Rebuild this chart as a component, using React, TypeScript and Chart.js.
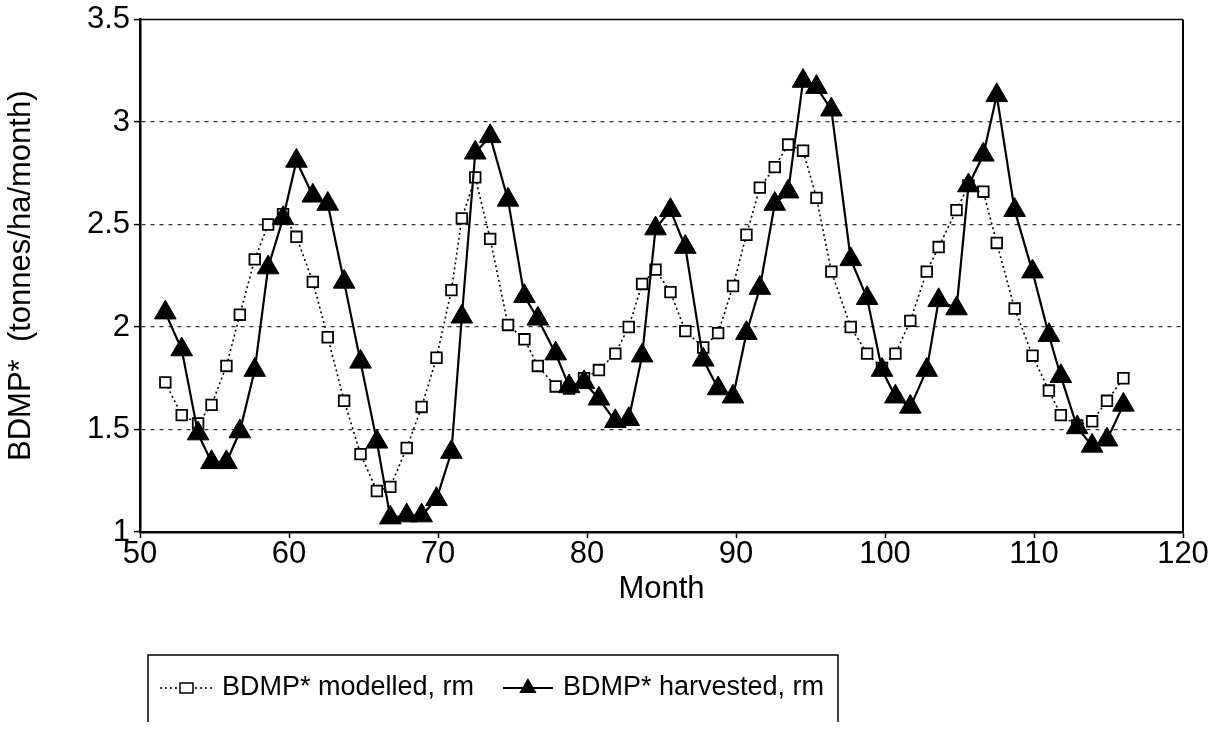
import React, { useEffect, useRef } from "react";
import { Chart, registerables } from "chart.js";

Chart.register(...registerables);

// Month positions of the running-mean points
const months = [
  51.7, 52.8, 53.9, 54.8, 55.8, 56.7, 57.7, 58.6, 59.6, 60.5,
  61.6, 62.6, 63.7, 64.8, 65.9, 66.8, 67.9, 68.9, 69.9, 70.9,
  71.6, 72.5, 73.5, 74.7, 75.8, 76.7, 77.9, 78.8, 79.8, 80.8,
  81.9, 82.8, 83.7, 84.6, 85.6, 86.6, 87.8, 88.8, 89.8, 90.7,
  91.6, 92.6, 93.5, 94.5, 95.4, 96.4, 97.7, 98.8, 99.8, 100.7,
  101.7, 102.8, 103.6, 104.8, 105.6, 106.6, 107.5, 108.7, 109.9, 111.0,
  111.8, 112.9, 113.9, 114.9, 116.0,
];

const modelled = [
  1.73, 1.57, 1.53, 1.62, 1.81, 2.06, 2.33, 2.5, 2.55, 2.44,
  2.22, 1.95, 1.64, 1.38, 1.2, 1.22, 1.41, 1.61, 1.85, 2.18,
  2.53, 2.73, 2.43, 2.01, 1.94, 1.81, 1.71, 1.7, 1.75, 1.79,
  1.87, 2.0, 2.21, 2.28, 2.17, 1.98, 1.9, 1.97, 2.2, 2.45,
  2.68, 2.78, 2.89, 2.86, 2.63, 2.27, 2.0, 1.87, 1.8, 1.87,
  2.03, 2.27, 2.39, 2.57, 2.69, 2.66, 2.41, 2.09, 1.86, 1.69,
  1.57, 1.52, 1.54, 1.64, 1.75,
];

const harvested = [
  2.07, 1.89, 1.48, 1.34, 1.34, 1.49, 1.79, 2.29, 2.53, 2.81,
  2.64, 2.6, 2.22, 1.83, 1.44, 1.07, 1.08, 1.08, 1.16, 1.39,
  2.05, 2.85, 2.93, 2.62, 2.15, 2.04, 1.87, 1.71, 1.73, 1.65,
  1.54, 1.55, 1.86, 2.48, 2.57, 2.39, 1.84, 1.7, 1.66, 1.97,
  2.19, 2.6, 2.66, 3.2, 3.17, 3.06, 2.33, 2.14, 1.79, 1.66,
  1.61, 1.79, 2.13, 2.09, 2.69, 2.84, 3.13, 2.57, 2.27, 1.96,
  1.76, 1.51, 1.42, 1.45, 1.62,
];

const xRange = [50, 120];
const xStep = 10;
const yRange = [1, 3.5];
const yStep = 0.5;
const seriesNames = ["BDMP* modelled, rm", "BDMP* harvested, rm"];
const xTitle = "Month";
const yTitle = "BDMP*  (tonnes/ha/month)";

const FONT = "'Liberation Sans', Arial, Helvetica, sans-serif";
const W = 1227;
const H = 748;

const framePlugin = {
  id: "frame",
  beforeDatasetsDraw(chart: any) {
    const { ctx, chartArea } = chart;
    ctx.save();
    ctx.strokeStyle = "#000";
    ctx.setLineDash([]);
    ctx.lineWidth = 1.5;
    ctx.beginPath();
    ctx.moveTo(chartArea.left, chartArea.top);
    ctx.lineTo(chartArea.right, chartArea.top);
    ctx.stroke();
    ctx.lineWidth = 2;
    ctx.beginPath();
    ctx.moveTo(chartArea.right, chartArea.top);
    ctx.lineTo(chartArea.right, chartArea.bottom);
    ctx.stroke();
    ctx.restore();
  },
};

const boxLegendPlugin = {
  id: "boxLegend",
  afterDraw(chart: any) {
    const { ctx } = chart;
    const box = { left: 148, top: 655, right: 838, bottom: 722 };
    const cy = 688;
    ctx.save();
    ctx.font = `27px ${FONT}`;
    const w2 = ctx.measureText(seriesNames[1]).width;
    const text1X = 222;
    const text2X = box.right - 14 - w2;
    const s2Right = text2X - 10;
    const s2Left = s2Right - 50;
    const triX = (s2Left + s2Right) / 2;

    ctx.strokeStyle = "#000";
    ctx.lineWidth = 1.5;
    ctx.setLineDash([]);
    ctx.beginPath();
    ctx.moveTo(box.left, box.bottom);
    ctx.lineTo(box.left, box.top);
    ctx.lineTo(box.right, box.top);
    ctx.lineTo(box.right, box.bottom);
    ctx.stroke();

    // modelled sample
    ctx.lineWidth = 1.5;
    ctx.setLineDash([2, 3]);
    ctx.beginPath();
    ctx.moveTo(160, cy);
    ctx.lineTo(214, cy);
    ctx.stroke();
    ctx.setLineDash([]);
    ctx.fillStyle = "#fff";
    ctx.fillRect(180, cy - 5, 13, 10);
    ctx.strokeRect(180, cy - 5, 13, 10);

    // harvested sample
    ctx.lineWidth = 2;
    ctx.beginPath();
    ctx.moveTo(s2Left, cy);
    ctx.lineTo(s2Right, cy);
    ctx.stroke();
    ctx.fillStyle = "#000";
    const r = 10;
    ctx.beginPath();
    for (let i = 0; i < 3; i++) {
      const a = (i * 2 * Math.PI) / 3;
      const px = triX + Math.sin(a) * r;
      const py = cy - Math.cos(a) * r;
      if (i === 0) ctx.moveTo(px, py);
      else ctx.lineTo(px, py);
    }
    ctx.closePath();
    ctx.fill();

    ctx.fillStyle = "#000";
    ctx.textBaseline = "middle";
    ctx.textAlign = "left";
    ctx.fillText(seriesNames[0], text1X, cy);
    ctx.fillText(seriesNames[1], text2X, cy);
    ctx.restore();
  },
};

export default function App() {
  const ref = useRef<HTMLCanvasElement | null>(null);

  useEffect(() => {
    if (!ref.current) return;
    const mod = months.map((m, i) => ({ x: m, y: modelled[i] }));
    const har = months.map((m, i) => ({ x: m, y: harvested[i] }));

    const chart = new Chart(ref.current, {
      type: "line",
      data: {
        datasets: [
          {
            label: seriesNames[1],
            data: har,
            borderColor: "#000",
            borderWidth: 2.2,
            pointStyle: "triangle",
            pointRadius: 12.5,
            pointBackgroundColor: "#000",
            pointBorderColor: "#000",
            pointBorderWidth: 1,
            tension: 0,
            order: 0,
          },
          {
            label: seriesNames[0],
            data: mod,
            borderColor: "#000",
            borderWidth: 1.6,
            borderDash: [2, 3],
            pointStyle: "rect",
            pointRadius: 7.5,
            pointBackgroundColor: "#fff",
            pointBorderColor: "#000",
            pointBorderWidth: 1.8,
            tension: 0,
            order: 1,
          },
        ],
      },
      options: {
        responsive: false,
        animation: false,
        events: [],
        layout: { padding: { left: 0, right: 44, top: 17, bottom: 140 } },
        plugins: {
          legend: { display: false },
          tooltip: { enabled: false },
        },
        scales: {
          x: {
            type: "linear",
            min: xRange[0],
            max: xRange[1],
            afterFit: (s: any) => {
              s.height = 76;
            },
            ticks: {
              stepSize: xStep,
              color: "#000",
              padding: 1,
              font: { family: FONT, size: 31, lineHeight: 1.0 },
            },
            grid: {
              drawOnChartArea: false,
              drawTicks: true,
              tickLength: 6,
              tickColor: "#000",
              tickWidth: 1.5,
            },
            border: { color: "#000", width: 2.5 },
            title: {
              display: true,
              text: xTitle,
              color: "#000",
              padding: { top: 0, bottom: 0 },
              font: { family: FONT, size: 31 },
            },
          },
          y: {
            type: "linear",
            min: yRange[0],
            max: yRange[1],
            afterFit: (s: any) => {
              s.width = 140;
            },
            ticks: {
              stepSize: yStep,
              color: "#000",
              padding: 4,
              font: { family: FONT, size: 31, lineHeight: 1.0 },
              callback: (v: any) => String(Number(v)),
            },
            grid: {
              color: (c: any) =>
                c.tick && (c.tick.value === yRange[0] || c.tick.value === yRange[1])
                  ? "rgba(0,0,0,0)"
                  : "#333",
              lineWidth: 1.2,
              drawTicks: true,
              tickLength: 6,
              tickColor: "#000",
              tickWidth: 1.5,
            },
            border: { color: "#000", width: 2.5, dash: [4, 5] },
            title: {
              display: true,
              text: yTitle,
              color: "#000",
              padding: { top: 3, bottom: 4 },
              font: { family: FONT, size: 31 },
            },
          },
        },
      },
      plugins: [framePlugin, boxLegendPlugin],
    });
    return () => chart.destroy();
  }, []);

  return (
    <div style={{ position: "absolute", left: 0, top: 0, width: W, height: H, background: "#fff" }}>
      <canvas ref={ref} width={W} height={H} style={{ display: "block" }} />
    </div>
  );
}
